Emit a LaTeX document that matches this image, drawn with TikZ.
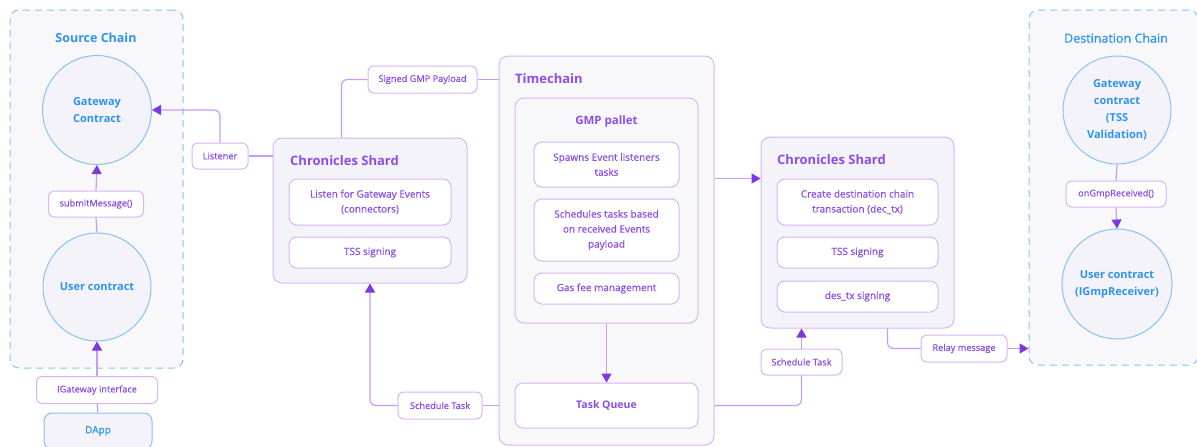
\documentclass[tikz,border=0pt]{standalone}
\usepackage{fontspec}
\setmainfont{Open Sans}
\newfontfamily\medfont{Open Sans}[FakeBold=0.5]
\usepackage{tikz}
\usetikzlibrary{arrows.meta,positioning,calc}
\definecolor{ChainBlue}{HTML}{86C3F7}
\definecolor{InkBlue}{HTML}{2E93F0}
\definecolor{PanelGray}{HTML}{F8F8FA}
\definecolor{ShardFill}{HTML}{F4F3F9}
\definecolor{LilacEdge}{HTML}{D8B5F8}
\definecolor{LilacLine}{HTML}{C79CF5}
\definecolor{Violet}{HTML}{8B4DEB}
\definecolor{ArrowViolet}{HTML}{7B38E4}

\begin{document}
\begin{tikzpicture}[x=1pt,y=-1pt,>={Triangle[width=10pt,length=9pt,color=ArrowViolet,fill=ArrowViolet]},
  every node/.style={font=\fontsize{9}{11}\selectfont,align=center},
  chain/.style={draw=ChainBlue,fill=PanelGray,line width=1pt,dash pattern=on 7pt off 5pt,rounded corners=9pt},
  contract/.style={circle,draw=ChainBlue,fill=ShardFill,line width=1pt,text=InkBlue,font=\fontsize{11}{17}\selectfont\bfseries,inner sep=0pt},
  tag/.style={draw=LilacEdge,fill=white,line width=1pt,rounded corners=6pt,text=Violet,font=\fontsize{9.2}{11}\selectfont\medfont,inner sep=0pt},
  panel/.style={draw=LilacEdge,fill=ShardFill,line width=1pt,rounded corners=9pt},
  task/.style={draw=LilacEdge,fill=white,line width=1pt,rounded corners=8pt,text=Violet,font=\fontsize{10}{15}\selectfont\medfont,inner sep=0pt},
  heading/.style={text=Violet,font=\fontsize{13}{15}\selectfont\bfseries},
  flow/.style={draw=LilacLine,line width=1.2pt,rounded corners=6pt}]
  \useasboundingbox[fill=white] (0,0) rectangle (1197,447);

  % source chain
  \node[chain,minimum width=173pt,minimum height=358pt] (srcChain) at (96.5,189) {};
  \node[text=InkBlue,font=\fontsize{12.5}{15}\selectfont\bfseries] (srcTitle) at (96,38) {Source Chain};
  \node[contract,minimum size=109pt] (gwSrc) at (97,110) {Gateway\\Contract};
  \node[tag,minimum width=95pt,minimum height=26pt] (submitMsg) at (96,204) {submitMessage()};
  \node[contract,minimum size=108pt] (userSrc) at (97,287) {User contract};
  \node[tag,minimum width=121pt,minimum height=27pt] (igw) at (97,390) {IGateway interface};
  \node[draw=ChainBlue,fill=ShardFill,line width=1pt,rounded corners=8pt,text=InkBlue,font=\fontsize{10}{12}\selectfont\medfont,minimum width=108pt,minimum height=36pt] (dapp) at (98,431) {DApp};
  \draw[flow] (userSrc.north) -- (submitMsg.south);
  \draw[flow,->] (submitMsg.north) -- (gwSrc.south);
  \draw[flow] (dapp.north) -- (igw.south);
  \draw[flow,->] (igw.north) -- (userSrc.south);

  % left shard
  \node[panel,minimum width=194pt,minimum height=145pt] (shardL) at (370,210.5) {};
  \node[heading,anchor=west,inner sep=0pt] (shardLTitle) at (290,161) {Chronicles Shard};
  \node[task,minimum width=162pt,minimum height=46pt] (listenEv) at (370,202) {Listen for Gateway Events\\(connectors)};
  \node[task,minimum width=162pt,minimum height=31pt] (tssL) at (370,252.5) {TSS signing};
  \node[tag,minimum width=56pt,minimum height=26pt] (listener) at (220,156) {Listener};
  \node[tag,minimum width=109pt,minimum height=27pt] (signedGmp) at (422.5,79.5) {Signed GMP Payload};
  \draw[flow,->] (listener.north) |- (gwSrc.east);
  \draw[flow] (listener.east) -- (listener.east -| shardL.west);

  % timechain
  \node[panel,fill=PanelGray,minimum width=215pt,minimum height=389pt] (timechain) at (606.5,250.5) {};
  \node[heading,anchor=west,inner sep=0pt] (tcTitle) at (515,79) {Timechain};
  \node[panel,fill=PanelGray,minimum width=183pt,minimum height=225pt] (gmpPallet) at (606.5,210.5) {};
  \node[heading,font=\fontsize{11.5}{14}\selectfont\bfseries] (gmpTitle) at (606.5,122) {GMP pallet};
  \node[task,minimum width=145pt,minimum height=45pt] (spawn) at (606.5,164.5) {Spawns Event listeners\\tasks};
  \node[task,minimum width=145pt,minimum height=62pt] (sched) at (606.5,230) {Schedules tasks based\\on received Events\\payload};
  \node[task,minimum width=145pt,minimum height=31pt] (gas) at (606.5,288.5) {Gas fee management};
  \node[task,font=\fontsize{10.5}{13}\selectfont\bfseries,minimum width=183pt,minimum height=45pt] (taskQ) at (606.5,405.5) {Task Queue};
  \node[tag,minimum width=84pt,minimum height=27pt] (schedL) at (440,405.5) {Schedule Task};
  \draw[flow] ($(shardL.north west)+(69,0)$) |- (signedGmp.west);
  \draw[flow] (signedGmp.east) -- (signedGmp.east -| timechain.west);
  \draw[flow,->] (gmpPallet.south) -- (taskQ.north);
  \draw[flow] (schedL.east) -- (schedL.east -| timechain.west);
  \draw[flow,->] (schedL.west) -| (shardL.south);

  % right shard
  \node[panel,minimum width=193pt,minimum height=191pt] (shardR) at (857.5,232.5) {};
  \node[heading,anchor=west,inner sep=0pt] (shardRTitle) at (777,160) {Chronicles Shard};
  \node[task,minimum width=161pt,minimum height=46pt] (createTx) at (857.5,202) {Create destination chain\\transaction (dec\_tx)};
  \node[task,minimum width=161pt,minimum height=31pt] (tssR) at (857.5,252.5) {TSS signing};
  \node[task,minimum width=161pt,minimum height=31pt] (desTx) at (857.5,296.5) {des\_tx signing};
  \node[tag,minimum width=81pt,minimum height=26pt] (schedR) at (801.5,362) {Schedule Task};
  \node[tag,minimum width=86pt,minimum height=27pt] (relay) at (964,348.5) {Relay message};
  \draw[flow,->] (timechain.east |- createTx.north) -- (shardR.west |- createTx.north);
  \draw[flow] (timechain.east |- taskQ.east) -| (schedR.south);
  \draw[flow,->] (schedR.north) -- (schedR.north |- shardR.south);

  % destination chain
  \node[chain,minimum width=169pt,minimum height=355pt] (dstChain) at (1113.5,187.5) {};
  \node[text=InkBlue,font=\fontsize{12.5}{15}\selectfont\medfont] (dstTitle) at (1116,38) {Destination Chain};
  \node[contract,minimum size=108pt] (gwDst) at (1117,110) {Gateway\\contract\\(TSS\\Validation)};
  \node[tag,minimum width=100pt,minimum height=26pt] (onGmp) at (1116,194) {onGmpReceived()};
  \node[contract,minimum size=110pt] (userDst) at (1117,284) {User contract\\(IGmpReceiver)};
  \draw[flow] ($(shardR.south)+(30,0)$) |- (relay.west);
  \draw[flow,->] (relay.east) -- (relay.east -| dstChain.west);
  \draw[flow] (gwDst.south) -- (onGmp.north);
  \draw[flow,->] (onGmp.south) -- (userDst.north);
\end{tikzpicture}
\end{document}
